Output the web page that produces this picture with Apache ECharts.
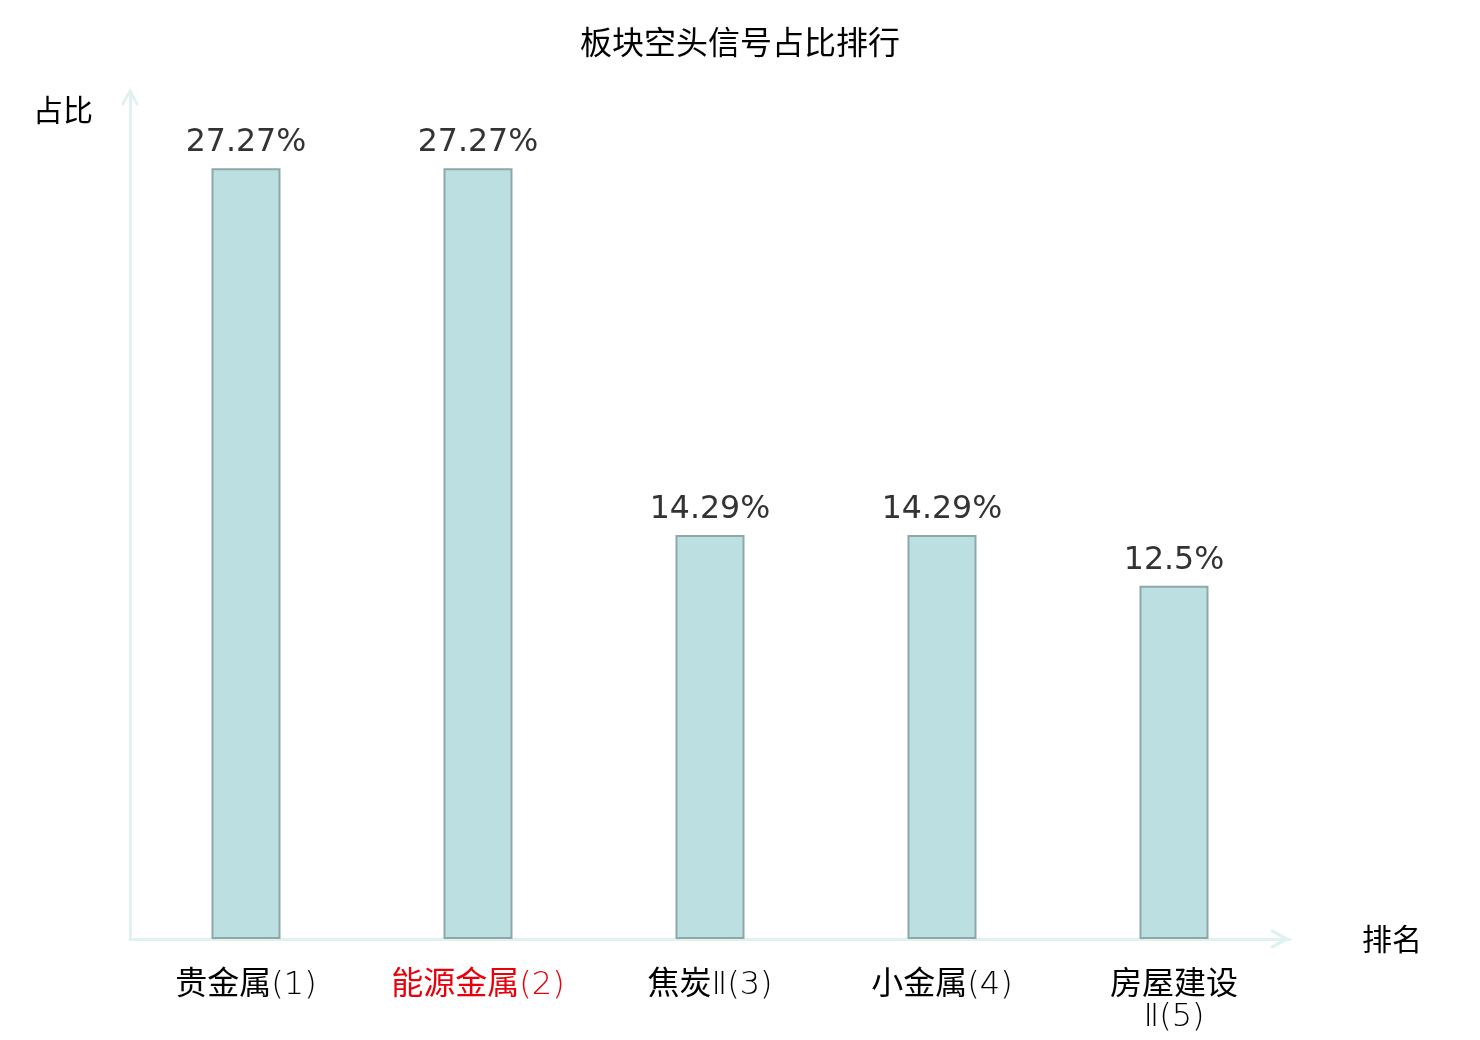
<!DOCTYPE html>
<html>
<head>
    <meta charset="utf-8">
    <title>板块空头信号占比排行</title>
    <script src="https://cdn.jsdelivr.net/npm/echarts@6/dist/echarts.min.js"></script>
    <style>
        html, body { margin: 0; padding: 0; background: #fff; }
    </style>
</head>
<body>
    <div id="main" style="width: 1480px;height:1040px;"></div>
<script type="text/javascript">
    // sector names, their rank, and short-signal share (%)
    var sectors = ['贵金属', '能源金属', '焦炭Ⅱ', '小金属', '房屋建设Ⅱ'];
    var ranks = [1, 2, 3, 4, 5];
    var shares = [27.27, 27.27, 14.29, 14.29, 12.5];
    var highlightIdx = 1;

    var categories = sectors.map(function (s, i) { return s + '(' + ranks[i] + ')'; });

    // open chevron, pointing up
    var chevron = 'path://M10,0 L20,18 L17.2,20 L10,6.5 L2.8,20 L0,18 Z';

    var myChart = echarts.init(document.getElementById('main'));

    var option = {
        backgroundColor: '#fff',
        textStyle: { fontFamily: 'Noto Sans CJK SC' },
        title: {
            text: '板块空头信号占比排行',
            left: 'center',
            top: 21,
            textStyle: {
                color: '#000',
                fontWeight: 'normal',
                fontSize: 32,
                fontFamily: 'Noto Sans CJK SC'
            }
        },
        grid: {
            left: 130,
            right: 190,
            top: 91,
            bottom: 101,
            containLabel: false
        },
        xAxis: {
            type: 'category',
            data: categories,
            name: '排名',
            nameLocation: 'end',
            nameGap: 72,
            nameTextStyle: { color: '#000', fontSize: 30, padding: [14, 0, 0, 0] },
            axisLine: {
                show: true,
                symbol: ['none', chevron],
                symbolSize: [21, 20],
                symbolOffset: [0, -10],
                lineStyle: { color: '#dff2ef', width: 3 }
            },
            axisTick: { show: false },
            axisLabel: {
                interval: 0,
                margin: 31,
                fontSize: 32,
                lineHeight: 32,
                fontFamily: '"DejaVu Sans Light", "Noto Sans CJK SC"',
                fontWeight: 'normal',
                color: function (value, index) {
                    return index === highlightIdx ? '#e8000b' : '#000';
                },
                formatter: function (value) {
                    // wrap long names after the fourth character
                    if (value.length > 7) {
                        return value.slice(0, 4) + '\n' + value.slice(4);
                    }
                    return value;
                }
            }
        },
        yAxis: {
            type: 'value',
            min: 0,
            max: 30,
            name: '占比',
            nameLocation: 'end',
            nameGap: -19,
            nameTextStyle: {
                color: '#000',
                fontSize: 30,
                align: 'right',
                verticalAlign: 'middle',
                padding: [0, 37, 0, 0]
            },
            axisLine: {
                show: true,
                symbol: ['none', chevron],
                symbolSize: [20, 18],
                symbolOffset: [0, -6],
                lineStyle: { color: '#dff2ef', width: 3 }
            },
            axisTick: { show: false },
            axisLabel: { show: false },
            splitLine: { show: false }
        },
        series: [
            {
                name: '占比',
                type: 'bar',
                data: shares,
                barWidth: 69,
                itemStyle: {
                    color: '#bce0e2',
                    borderColor: '#8ea8a8',
                    borderWidth: 2
                },
                label: {
                    show: true,
                    position: 'top',
                    distance: 9,
                    color: '#333',
                    fontSize: 31.6,
                    fontFamily: 'DejaVu Sans',
                    formatter: '{c}%'
                }
            }
        ]
    };
    if (option && typeof option === "object") {
        myChart.setOption(option, true);
    }
</script>
</body>
</html>
